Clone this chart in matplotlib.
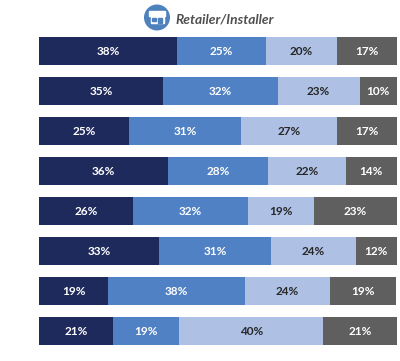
import matplotlib
matplotlib.use("Agg")
import matplotlib.pyplot as plt
from matplotlib.patches import Circle, Rectangle
import numpy as np

title = "Retailer/Installer"

# printed labels
dark_navy = [38, 35, 25, 36, 26, 33, 19, 21]
mid_blue = [25, 32, 31, 28, 32, 31, 38, 19]
light_blue = [20, 23, 27, 22, 19, 24, 24, 40]
grey = [17, 10, 17, 14, 23, 12, 19, 21]

# unrounded shares
dark_navy_w = [38.5, 34.6, 25.1, 35.9, 26.3, 33.5, 19.2, 20.6]
mid_blue_w = [24.9, 32.1, 31.3, 28.1, 32.0, 31.3, 38.4, 18.6]
light_blue_w = [19.8, 22.9, 26.8, 21.8, 18.5, 23.7, 23.6, 40.2]
grey_w = [16.8, 10.4, 16.8, 14.2, 23.2, 11.6, 18.7, 20.6]

labels = [dark_navy, mid_blue, light_blue, grey]
widths = [dark_navy_w, mid_blue_w, light_blue_w, grey_w]
colors = ["#1F2A5C", "#4F81C4", "#AEC1E4", "#5F5F5F"]
text_colors = ["white", "white", "#262626", "white"]

plt.rcParams["font.family"] = ["Lato", "DejaVu Sans"]

fig = plt.figure(figsize=(4, 3.61), dpi=100)
ax = fig.add_axes([39.3 / 400, 10.3 / 361, 357.4 / 400, 320 / 361])

rows = np.arange(len(dark_navy))
left = np.zeros(len(dark_navy))
for i in range(len(labels)):
    w = np.array(widths[i])
    ax.barh(rows, w, left=left, height=0.7, color=colors[i])
    for r in rows:
        ax.text(left[r] + w[r] / 2, r + 0.01, f"{labels[i][r]}%",
                ha="center", va="center", fontsize=8.5, fontweight="bold",
                color=text_colors[i])
    left = left + w

ax.set_xlim(0, 100)
ax.set_ylim(7.5, -0.5)
ax.axis("off")

# header icon and title, in pixels
top = fig.add_axes([0, 0, 1, 1], facecolor="none")
top.set_xlim(0, 400)
top.set_ylim(361, 0)
top.axis("off")
top.add_patch(Circle((157, 17.5), 12.3, color="#4F81BD"))
top.add_patch(Rectangle((149, 11), 16, 4.7, color="white"))
top.add_patch(Rectangle((150.5, 15.7), 13, 7, color="white"))
top.add_patch(Rectangle((152, 18), 3.5, 2.5, color="#4F81BD"))
top.add_patch(Rectangle((158, 18), 4, 4.7, color="#4F81BD"))
top.text(175, 19, title, ha="left", va="center", fontsize=9.9,
         fontweight="bold", fontstyle="italic", color="#505050")

fig.savefig("out.png", dpi=100)
